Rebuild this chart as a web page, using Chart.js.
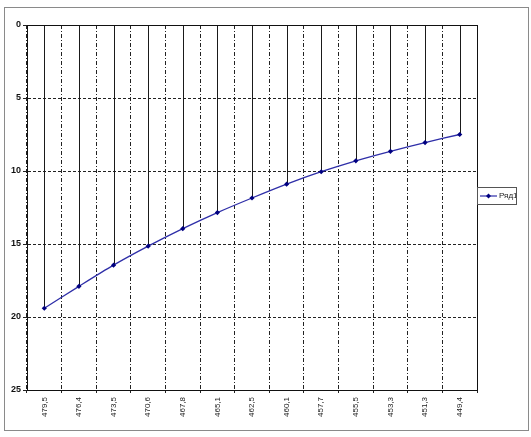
<!DOCTYPE html>
<html>
<head>
<meta charset="utf-8">
<script src="https://cdn.jsdelivr.net/npm/chart.js@4/dist/chart.umd.min.js"></script>
<style>
  html, body { margin: 0; padding: 0; background: #fff; }
  #wrap { position: relative; width: 531px; height: 437px; }
</style>
</head>
<body>
<div id="wrap"><canvas id="c" width="531" height="437"></canvas></div>
<script>
const categories = ['479,5','476,4','473,5','470,6','467,8','465,1','462,5','460,1','457,7','455,5','453,3','451,3','449,4'];
const values = [19.4, 17.9, 16.45, 15.15, 13.95, 12.85, 11.85, 10.9, 10.05, 9.3, 8.65, 8.05, 7.5];
const seriesName = 'Ряд1';
const yMin = 0, yMax = 25, yStep = 5;

const lineColor = '#2e2ea8';
const markerColor = '#000080';
const FONT = "'Liberation Sans', Arial, sans-serif";

const dropLines = {
  id: 'dropLines',
  beforeDatasetsDraw(chart) {
    const ctx = chart.ctx;
    const meta = chart.getDatasetMeta(0);
    const y0 = chart.scales.y.getPixelForValue(0);
    ctx.save();
    ctx.strokeStyle = '#1a1a1a';
    ctx.lineWidth = 1;
    meta.data.forEach(p => {
      const x = Math.round(p.x) + 0.5;
      ctx.beginPath();
      ctx.moveTo(x, y0);
      ctx.lineTo(x, p.y);
      ctx.stroke();
    });
    ctx.restore();
  }
};

const frames = {
  id: 'frames',
  afterDraw(chart) {
    const ctx = chart.ctx;
    const a = chart.chartArea;
    ctx.save();
    ctx.strokeStyle = '#111';
    ctx.lineWidth = 1;
    ctx.setLineDash([]);
    ctx.strokeRect(Math.round(a.left) + 0.5, Math.round(a.top) + 0.5,
                   Math.round(a.right - a.left), Math.round(a.bottom - a.top));
    ctx.strokeStyle = '#8a8a8a';
    ctx.strokeRect(4.5, 7.5, 524, 423);
    const lx = Math.round(a.right), ly = 187, lw = 39, lh = 17;
    ctx.fillStyle = '#fff';
    ctx.fillRect(lx, ly, lw, lh);
    ctx.strokeStyle = '#555';
    ctx.strokeRect(lx + 0.5, ly + 0.5, lw, lh);
    const cy = ly + lh / 2 + 0.5;
    ctx.strokeStyle = lineColor;
    ctx.lineWidth = 1.2;
    ctx.beginPath();
    ctx.moveTo(lx + 3, cy);
    ctx.lineTo(lx + 20, cy);
    ctx.stroke();
    ctx.fillStyle = markerColor;
    ctx.beginPath();
    ctx.moveTo(lx + 11.5, cy - 2.5);
    ctx.lineTo(lx + 14, cy);
    ctx.lineTo(lx + 11.5, cy + 2.5);
    ctx.lineTo(lx + 9, cy);
    ctx.closePath();
    ctx.fill();
    ctx.beginPath();
    ctx.rect(lx + 1, ly + 1, lw - 1, lh - 1);
    ctx.clip();
    ctx.fillStyle = '#222';
    ctx.font = '8px ' + FONT;
    ctx.textBaseline = 'middle';
    ctx.textAlign = 'left';
    ctx.fillText(seriesName, lx + 22, cy);
    ctx.restore();
  }
};

new Chart(document.getElementById('c'), {
  type: 'line',
  data: {
    labels: categories,
    datasets: [{
      label: seriesName,
      data: values,
      borderColor: lineColor,
      borderWidth: 1.3,
      pointStyle: 'rectRot',
      pointRadius: 2.6,
      pointBackgroundColor: markerColor,
      pointBorderColor: markerColor,
      pointBorderWidth: 0,
      tension: 0.3,
      fill: false
    }]
  },
  options: {
    responsive: false,
    animation: false,
    devicePixelRatio: 1,
    layout: { padding: { left: 0, top: 25, right: 54, bottom: 0 } },
    plugins: { legend: { display: false }, tooltip: { enabled: false } },
    scales: {
      x: {
        type: 'category',
        offset: true,
        grid: {
          offset: true,
          color: '#222',
          lineWidth: 1,
          drawTicks: true,
          tickLength: 3,
          tickColor: '#222',
          tickBorderDash: []
        },
        border: { display: true, color: '#111', dash: [4, 2, 1, 2] },
        ticks: {
          autoSkip: false,
          maxRotation: 90,
          minRotation: 90,
          padding: 4,
          color: '#222',
          font: { family: FONT, size: 8 }
        },
        afterFit(s) { s.height = 47; }
      },
      y: {
        reverse: true,
        min: yMin,
        max: yMax,
        grid: {
          color: '#222',
          lineWidth: 1,
          drawTicks: true,
          tickLength: 4,
          tickColor: '#222',
          tickBorderDash: []
        },
        border: { display: true, color: '#111', dash: [3, 2] },
        ticks: {
          stepSize: yStep,
          padding: 2,
          color: '#111',
          font: { family: FONT, size: 9, weight: 'bold' }
        },
        afterFit(s) { s.width = 27; }
      }
    }
  },
  plugins: [dropLines, frames]
});
</script>
</body>
</html>
